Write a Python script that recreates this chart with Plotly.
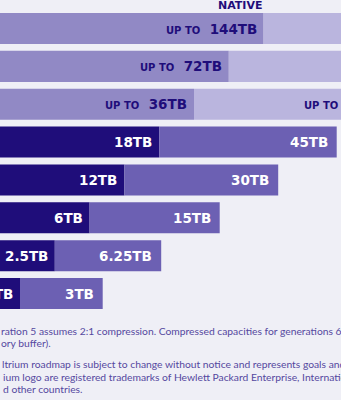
import plotly.graph_objects as go

# ---- data ----
generations = ["LTO-12", "LTO-11", "LTO-10", "LTO-9", "LTO-8", "LTO-7", "LTO-6", "LTO-5"]
gen_numbers = [12, 11, 10, 9, 8, 7, 6, 5]
native_tb = [144, 72, 36, 18, 12, 6, 2.5, 1.5]
compressed_tb = [360, 180, 90, 45, 30, 15, 6.25, 3]
is_future = [True, True, True, False, False, False, False, False]
header_text = "NATIVE"
footnotes = [
    "ration 5 assumes 2:1 compression. Compressed capacities for generations 6-12 assume 2.5:1",
    "ory buffer).",
    "ltrium roadmap is subject to change without notice and represents goals and objectives only.",
    "ium logo are registered trademarks of Hewlett Packard Enterprise, International Business",
    "d other countries.",
]

# ---- style / layout (stylised roadmap: bar length grows one step per generation) ----
W, H = 341, 400
X_RANGE = [0, W]
BASE = -30
NATIVE_X0, NATIVE_STEP = 20.0, 34.8
COMP_X0, COMP_STEP = 102.7, 58.5
BG = "#EFEFF6"
NAVY = "#1F0D7A"
C_NATIVE_DARK = "#1F0D7A"
C_COMP_DARK = "#6C60B3"
C_NATIVE_LIGHT = "#9189C5"
C_COMP_LIGHT = "#BAB5DE"
LABEL_FONT = "DejaVu Sans"

native_end = [NATIVE_X0 + NATIVE_STEP * (g - 5) for g in gen_numbers]
comp_end = [COMP_X0 + COMP_STEP * (g - 5) for g in gen_numbers]


def fmt(v):
    return f"{v:g}TB"


def to_paper(v):
    # x axis fills the whole width, so data -> paper is a simple rescale
    return (v - X_RANGE[0]) / (X_RANGE[1] - X_RANGE[0])


fig = go.Figure()
fig.add_trace(go.Bar(
    y=generations, x=[e - BASE for e in native_end], base=[BASE] * len(generations),
    orientation="h", width=0.82,
    marker=dict(color=[C_NATIVE_LIGHT if f else C_NATIVE_DARK for f in is_future], line=dict(width=0)),
    hoverinfo="skip", showlegend=False,
))
fig.add_trace(go.Bar(
    y=generations, x=[c - n for c, n in zip(comp_end, native_end)], base=native_end,
    orientation="h", width=0.82,
    marker=dict(color=[C_COMP_LIGHT if f else C_COMP_DARK for f in is_future], line=dict(width=0)),
    hoverinfo="skip", showlegend=False,
))

ann = []
for g, n, c, ne, ce, f in zip(generations, native_tb, compressed_tb, native_end, comp_end, is_future):
    if f:
        tn = "<span style='font-size:10px'>UP TO</span>\u00a0\u00a0" + fmt(n)
        tc = "<span style='font-size:10px'>UP TO</span>\u00a0\u00a0" + fmt(c)
        col = NAVY
    else:
        tn, tc, col = fmt(n), fmt(c), "white"
    ann.append(dict(x=to_paper(ne), y=g, xref="paper", yref="y", text=tn, showarrow=False,
                    xanchor="right", yanchor="middle", xshift=-5,
                    font=dict(family=LABEL_FONT, size=13.5, color=col, weight="bold")))
    ann.append(dict(x=to_paper(ce), y=g, xref="paper", yref="y", text=tc, showarrow=False,
                    xanchor="right", yanchor="middle", xshift=-7,
                    font=dict(family=LABEL_FONT, size=13.5, color=col, weight="bold")))

ann.append(dict(x=to_paper(native_end[0]), y=1 - 5.5 / H, xref="paper", yref="paper", text=header_text,
                showarrow=False, xanchor="right", yanchor="middle", xshift=1,
                font=dict(family=LABEL_FONT, size=11, color=NAVY, weight="bold")))

foot_y = [331, 343, 364, 376.5, 389]
foot_x = [-1, -1, 0, 1, 1]
for t, yy, xx in zip(footnotes, foot_y, foot_x):
    ann.append(dict(x=xx / W, y=1 - yy / H, xref="paper", yref="paper", text=t, showarrow=False,
                    xanchor="left", yanchor="middle",
                    font=dict(family="Lato", size=10.3, color="#5548A0")))

fig.update_layout(
    width=W, height=H, margin=dict(l=0, r=0, t=0, b=0),
    paper_bgcolor=BG, plot_bgcolor=BG, barmode="overlay",
    xaxis=dict(range=X_RANGE, visible=False, fixedrange=True),
    yaxis=dict(range=[9.813, -0.753], visible=False, type="category", fixedrange=True),
    annotations=ann,
)
fig.write_html("out.html", config={"displayModeBar": False})
